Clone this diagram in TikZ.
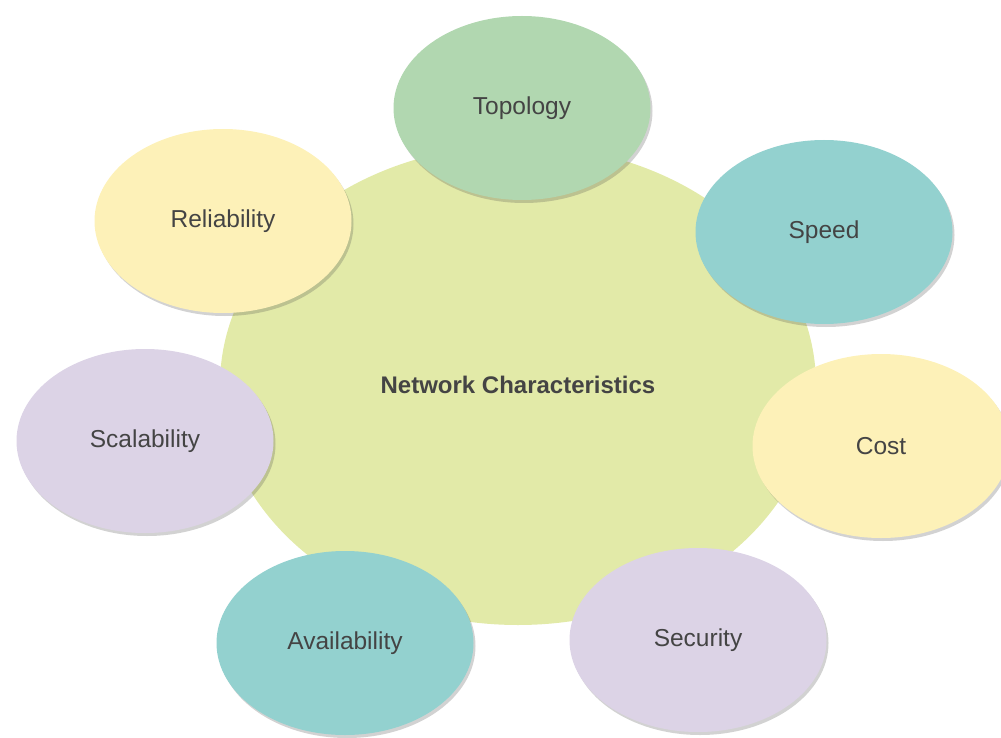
\documentclass[tikz,border=0pt]{standalone}
\usepackage{fontspec}
\setmainfont{Liberation Sans}
\usetikzlibrary{shapes.geometric,shadows}

\definecolor{coreGreen}{RGB}{226,234,168}
\definecolor{sageGreen}{RGB}{177,215,176}
\definecolor{tealBlue}{RGB}{147,209,207}
\definecolor{paleYellow}{RGB}{253,241,184}
\definecolor{paleLilac}{RGB}{220,211,230}
\definecolor{labelGray}{RGB}{68,68,68}

\begin{document}
\begin{tikzpicture}[
        x=1pt, y=-1pt,
        core/.style={ellipse, fill=coreGreen, draw=none, inner sep=0pt,
            minimum width=596pt, minimum height=480pt,
            text=labelGray, font=\fontsize{24}{28}\selectfont\bfseries},
        bubble/.style={ellipse, draw=none, inner sep=0pt,
            minimum width=257pt, minimum height=184pt,
            text=labelGray, font=\fontsize{24.5}{29}\selectfont,
            drop shadow={shadow xshift=2pt, shadow yshift=-3pt, opacity=0.25, fill=black!70}}
    ]

    % --- 画布大小 ---
    \useasboundingbox (0,0) rectangle (1001,738);

    % --- 1. 中心椭圆 ---
    \node[core] (net) at (518,385) {Network Characteristics};

    % --- 2. 周围的七个特性 ---
    \foreach \name/\px/\py/\col/\txt in {
            topo/522/108/sageGreen/Topology,
            speed/824/232/tealBlue/Speed,
            cost/881/446/paleYellow/Cost,
            secu/698/640/paleLilac/Security,
            avail/345/643/tealBlue/Availability,
            scal/145/441/paleLilac/Scalability,
            reli/223/221/paleYellow/Reliability} {
        \node[bubble, fill=\col] (\name) at (\px,\py) {\txt};
    }

\end{tikzpicture}
\end{document}
